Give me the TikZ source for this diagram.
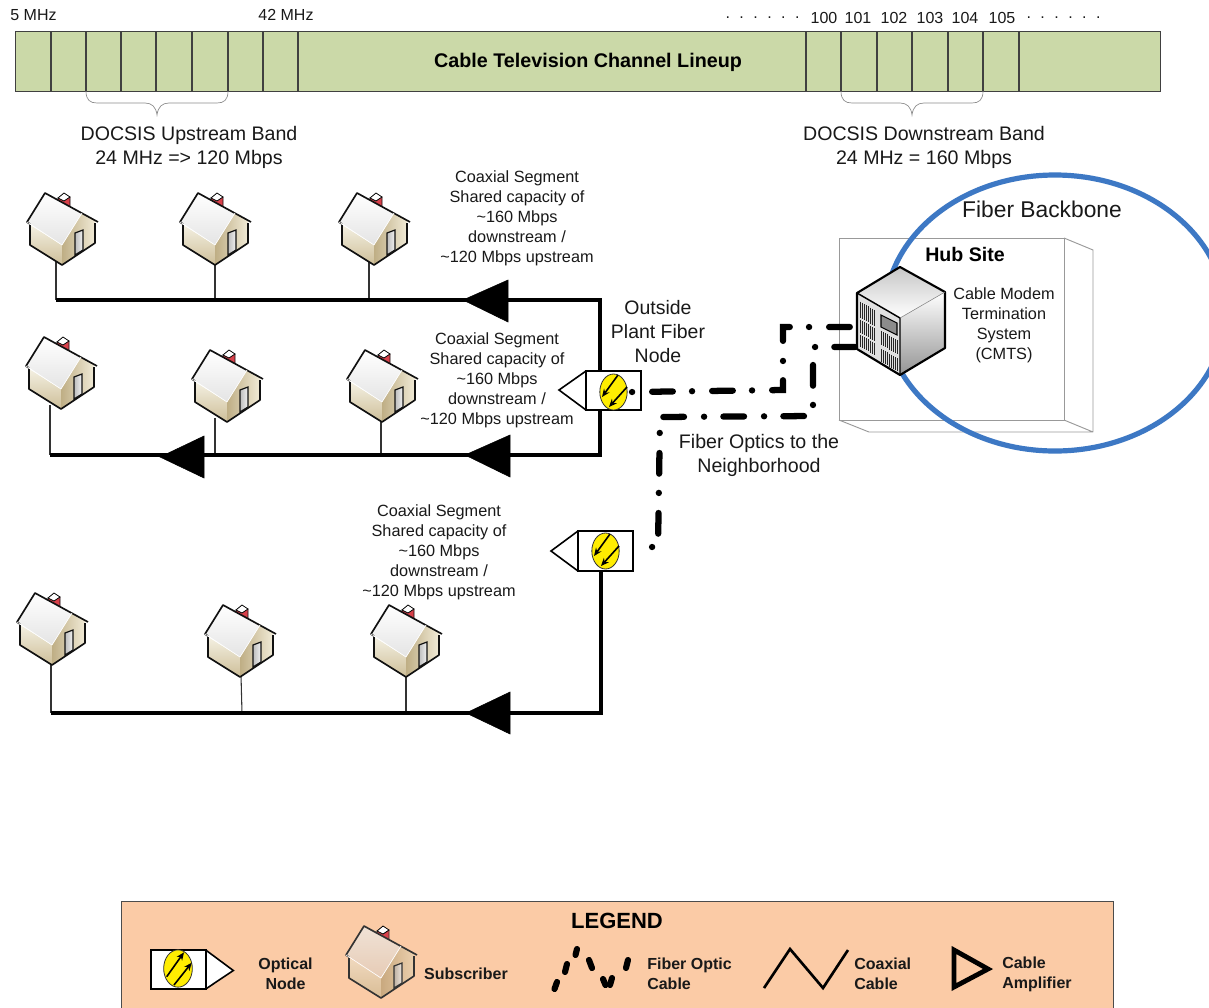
\documentclass[tikz,border=0pt]{standalone}
\usepackage{fontspec}
\setmainfont{Liberation Sans}
\usetikzlibrary{arrows.meta,shapes.geometric}
\definecolor{chan}{HTML}{CBD9A8}
\definecolor{legendbg}{HTML}{FBCBA6}
\definecolor{blueloop}{HTML}{3D78C4}
\definecolor{chimred}{HTML}{D8404A}
\definecolor{roofa}{HTML}{FFFFFF}
\definecolor{roofb}{HTML}{E4E4E4}
\definecolor{walla}{HTML}{F4F0E2}
\definecolor{wallb}{HTML}{CDBE98}
\definecolor{sidea}{HTML}{BFAE85}
\definecolor{sideb}{HTML}{F0EAD6}
\definecolor{doora}{HTML}{BDBDBD}
\definecolor{doorb}{HTML}{F2F2F2}
\definecolor{edgec}{HTML}{111111}
\tikzset{
  x=0.75pt,y=-0.75pt,
  txt/.style={inner sep=0pt,align=center,text=black!90},
  coaxtxt/.style={txt,font=\fontsize{12.2pt}{15pt}\selectfont},
  bandtxt/.style={txt,font=\fontsize{14.7pt}{18pt}\selectfont},
  freq/.style={txt,font=\fontsize{12pt}{14pt}\selectfont},
  legtxt/.style={inner sep=0pt,align=left,font=\bfseries\fontsize{12pt}{15pt}\selectfont,text=black!90},
  bus/.style={line width=2.4pt,black,line join=miter},
  drop/.style={line width=0.8pt,black!80},
  amp/.style={fill=black,draw=black},
  fiber/.style={line width=4.7pt,black,line cap=round,line join=miter,dash pattern=on 0.1pt off 15pt on 15.5pt off 14.4pt},
  chline/.style={line width=0.8pt,black!75},
  bracel/.style={line width=0.5pt,black!45},
  optbox/.style={draw=black,line width=1.3pt,fill=white,minimum width=41.25pt,minimum height=29.5pt,inner sep=0pt},
  opttip/.style={draw=black,line width=1.2pt,fill=white,line join=miter},
  yell/.style={draw=black!80,line width=0.6pt,fill=yellow!95!orange},
  oarrow/.style={line width=1.2pt,black,-{Stealth[length=6pt,width=5pt]}},
  vent/.style={line width=0.62pt,black!85},
  house/.pic={
    % chimney
    \fill[chimred,draw=edgec,line width=0.6pt] (-4,-67) -- (-4,-58) -- (8,-50) -- (8,-68) -- cycle;
    \draw[fill=white,line width=0.6pt] (-4,-67) -- (2,-72) -- (8,-68) -- (2,-64) -- cycle;
    % walls
    \shade[top color=walla,bottom color=wallb] (-32,-40) -- (-32,-20) -- (0,0) -- (0,-20) -- cycle;
    \shade[left color=sidea,right color=sideb] (0,-20) -- (20,-52) -- (33,-44) -- (33,-22) -- (0,0) -- cycle;
    \draw[line width=1.25pt,edgec,line join=round] (-32,-40) -- (-32,-20) -- (0,0) -- (33,-22) -- (33,-42);
    % roof
    \shade[top color=roofa,bottom color=roofb,draw=none] (-17,-72) -- (-35,-43) -- (0,-20) -- (20,-52) -- cycle;
    \draw[line width=1.25pt,edgec,line join=round] (36,-43) -- (-17,-72) -- (-35,-43) -- (-32,-41);
    \draw[line width=0.5pt,white] (-35,-43) -- (0,-20) -- (20,-52);
    % door
    \shade[left color=doora,right color=doorb,draw=edgec,line width=0.9pt] (13,-10) -- (13,-32) -- (21,-35) -- (21,-15) -- cycle;
  }
}
\begin{document}
\begin{tikzpicture}
\useasboundingbox (0,0) rectangle (1209,1007);
\fill[white] (0,0) rectangle (1209,1007);

% ---- channel bar
\node[draw=black!75,line width=0.9pt,fill=chan,minimum width=858.75pt,minimum height=45pt,inner sep=0pt,anchor=north west] (bar) at (15,31) {};
\foreach \xx in {51,86,121,156,192,228,263,298,806,841,877,912,948,983,1019}
  \draw[chline] (\xx,31) -- (\xx,91);
\node[txt,font=\bfseries\fontsize{14.8pt}{18pt}\selectfont,text=black] (title) at (588,62) {Cable Television Channel Lineup};
\node[freq] (f5) at (33.5,15) {5 MHz};
\node[freq] (f42) at (286,15) {42 MHz};
\node[freq] (dotsa) at (762.5,18) {.\hspace{7.1pt}.\hspace{7.1pt}.\hspace{7.1pt}.\hspace{7.1pt}.\hspace{7.1pt}.};
\node[freq] (c100) at (824,18) {100};
\node[freq] (c101) at (858,18) {101};
\node[freq] (c102) at (894,18) {102};
\node[freq] (c103) at (930,18) {103};
\node[freq] (c104) at (965,18) {104};
\node[freq] (c105) at (1002,18) {105};
\node[freq] (dotsb) at (1063.5,18) {.\hspace{7.1pt}.\hspace{7.1pt}.\hspace{7.1pt}.\hspace{7.1pt}.\hspace{7.1pt}.};

% braces
\draw[bracel] (86,91) .. controls (86,100) and (90,103) .. (97,103) -- (145,103) .. controls (152,103) and (156,107) .. (157,115) .. controls (158,107) and (162,103) .. (169,103) -- (217,103) .. controls (224,103) and (228,100) .. (228,91);
\draw[bracel] (841,91) .. controls (841,100) and (845,103) .. (852,103) -- (900,103) .. controls (907,103) and (911,107) .. (912,115) .. controls (913,107) and (917,103) .. (924,103) -- (972,103) .. controls (979,103) and (983,100) .. (983,91);
\node[bandtxt] (upband) at (189,147) {DOCSIS Upstream Band\\24 MHz => 120 Mbps};
\node[bandtxt] (downband) at (924,147) {DOCSIS Downstream Band\\24 MHz = 160 Mbps};

% ---- coax buses
\coordinate (r1l) at (56,300);
\coordinate (r1r) at (600,300);
\coordinate (r2l) at (50,455);
\coordinate (r2r) at (600,455);
\coordinate (r3l) at (51,713);
\coordinate (r3r) at (601,713);

% houses
\foreach \nm/\hx/\hy in {a/62/265,b/215/265,c/374/265,d/61/409,e/227/422,f/382/422,g/52/665,h/240/677,i/406/677}
  \coordinate (h\nm) at (\hx,\hy);
\draw[drop] (56,262) -- (r1l);
\draw[drop] (215,262) -- (215,300);
\draw[drop] (369,262) -- (369,300);
\draw[drop] (50,405) -- (r2l);
\draw[drop] (215,418) -- (215,455);
\draw[drop] (381,420) -- (381,455);
\draw[drop] (51,660) -- (r3l);
\draw[drop] (241,675) -- (242,713);
\draw[drop] (406,675) -- (406,713);
\foreach \nm in {a,b,c,d,e,f,g,h,i}
  \pic (pic\nm) at (h\nm) {house};

\draw[bus] (r1l) -- (r1r) -- (r2r) -- (r2l);
\draw[bus] (r3l) -- (r3r) -- (601,570);

% amplifiers
\draw[amp] (463,300) -- (508,280) -- (508,322) -- cycle;
\draw[amp] (465,455) -- (510,435) -- (510,477) -- cycle;
\draw[amp] (160,457) -- (204,436) -- (204,478) -- cycle;
\draw[amp] (466,713) -- (510,692) -- (510,734) -- cycle;

% coax text
\node[coaxtxt] (seg1) at (517,218) {Coaxial Segment\\Shared capacity of\\\textasciitilde160 Mbps\\downstream /\\\textasciitilde120 Mbps upstream};
\node[coaxtxt] (seg2) at (497,380) {Coaxial Segment\\Shared capacity of\\\textasciitilde160 Mbps\\downstream /\\\textasciitilde120 Mbps upstream};
\node[coaxtxt] (seg3) at (439,552) {Coaxial Segment\\Shared capacity of\\\textasciitilde160 Mbps\\downstream /\\\textasciitilde120 Mbps upstream};

% ---- hub site
\draw[line width=0.7pt,black!40,line join=round] (839,238) rectangle (1064,420);
\draw[line width=0.7pt,black!40,line join=round] (1064,238) -- (1093,250) -- (1093,432) -- (869,432) -- (839,420) (1064,420) -- (1093,432);
\node[draw=blueloop,line width=3.9pt,ellipse,minimum width=255pt,minimum height=207pt,inner sep=0pt] (backbone) at (1055,313) {};
\node[txt,font=\fontsize{17.1pt}{20pt}\selectfont] (fbb) at (1042,209) {Fiber Backbone};
\node[txt,font=\bfseries\fontsize{14.7pt}{16pt}\selectfont,text=black] (hub) at (965,254) {Hub Site};
\node[coaxtxt] (cmts) at (1004,325) {Cable Modem\\Termination\\System\\(CMTS)};

% server
\shade[top color=black!22,bottom color=white,draw=none] (900,267) -- (857,293) -- (900,318) -- (945,292) -- cycle;
\shade[top color=white,bottom color=black!42] (900,318) -- (945,292) -- (945,348) -- (900,375) -- cycle;
\fill[black!12] (857,293) -- (900,318) -- (900,375) -- (857,349) -- cycle;
\foreach \vv/\hh in {7/16,25/13,40/12}
  \foreach \uu in {3,5,...,17}
    \draw[vent] ({857+\uu},{293+0.58*\uu+\vv}) -- ({857+\uu},{293+0.58*\uu+\vv+\hh});
\foreach \vv/\hh in {24/14,42/13}
  \foreach \uu in {24,26,...,40}
    \draw[vent] ({857+\uu},{293+0.58*\uu+\vv}) -- ({857+\uu},{293+0.58*\uu+\vv+\hh});
\draw[black,line width=0.8pt,fill=black!45] (881,315) -- (897,323) -- (897,335) -- (881,327) -- cycle;
\draw[black,line width=1.6pt,line join=round] (900,267) -- (945,292) -- (945,348) -- (900,375) -- (857,349) -- (857,293) -- cycle;
\draw[black,line width=1.1pt] (857,293) -- (900,318) -- (900,375);
\draw[black!50,line width=0.4pt] (900,318) -- (945,292);
\coordinate (srva) at (855,327);
\coordinate (srvb) at (855,347);

% ---- optical nodes
\draw[opttip] (586,371) -- (559,390) -- (586,410);
\node[optbox] (on1) at (613.5,390.5) {};
\node[yell,ellipse,minimum width=20.5pt,minimum height=27pt,inner sep=0pt] (oe1) at (613.5,392) {};
\draw[oarrow] (618,375) -- (602,397);
\draw[oarrow] (627,387) -- (609,407);
\draw[opttip] (578,531) -- (551,551) -- (578,571);
\node[optbox] (on2) at (605.5,551) {};
\node[yell,ellipse,minimum width=20.5pt,minimum height=27pt,inner sep=0pt] (oe2) at (605.5,551) {};
\draw[oarrow] (610,534) -- (594,556);
\draw[oarrow] (619,546) -- (601,566);

% ---- fibre
\coordinate (fa) at (632,392);
\draw[fiber] (fa) -- (783,390) -- (783,327) -- (srva);
\coordinate (fb) at (648,547);
\draw[fiber,dash phase=15.1pt] (srvb) -- (813,347) -- (813,416) -- (660,417) -- (658,547) -- (fb);

\node[txt,font=\fontsize{14.6pt}{18pt}\selectfont] (opf) at (658,332) {Outside\\Plant Fiber\\Node};
\node[txt,font=\fontsize{14.7pt}{18pt}\selectfont] (fon) at (759,455) {Fiber Optics to the\\Neighborhood};

% ---- legend
\node[draw=black!70,line width=0.9pt,fill=legendbg,minimum width=744pt,minimum height=90pt,inner sep=0pt,anchor=north west] (legend) at (121,901) {};
\node[txt,font=\bfseries\fontsize{16.5pt}{20pt}\selectfont,text=black] (legt) at (617,921) {LEGEND};

\draw[opttip] (205.7,950) -- (233.3,970.5) -- (205.7,989);
\node[draw=black,line width=1.4pt,fill=white,minimum width=41.25pt,minimum height=29.5pt,inner sep=0pt] (lon) at (178.2,969.5) {};
\node[yell,ellipse,minimum width=21.5pt,minimum height=28pt,inner sep=0pt] (loe) at (178,968.5) {};
\draw[oarrow] (166.7,976.7) -- (184,952.3);
\draw[oarrow] (174,985) -- (191.7,962.7);
\node[legtxt,align=center] (lont) at (285.5,974) {Optical\\Node};

\begin{scope}
\definecolor{roofa}{HTML}{F0E2D6}
\definecolor{roofb}{HTML}{E6CBB5}
\definecolor{walla}{HTML}{F0D9BE}
\definecolor{wallb}{HTML}{D9BC95}
\definecolor{sidea}{HTML}{C9A97F}
\definecolor{sideb}{HTML}{EBCFAD}
\definecolor{doora}{HTML}{BFB1A2}
\definecolor{doorb}{HTML}{EDE5DD}
\definecolor{edgec}{HTML}{333333}
\pic (lhouse) at (381,998) {house};
\end{scope}
\node[legtxt] (lsub) at (466,974) {Subscriber};

\foreach \ax/\ay/\bx/\by in {554.5/989/557/982, 565/972/567/964, 575.5/955/577/949, 589/960/592/968, 603/979/605.5/985, 610/985/612/978, 626/968/628/960}
  \draw[line width=4.6pt,line cap=round,black] (\ax,\ay) -- (\bx,\by);
\node[legtxt,anchor=west] (lfib) at (647,974) {Fiber Optic\\Cable};

\draw[line width=2pt,black,line join=miter] (764,988) -- (790,949) -- (823,988) -- (848,950);
\node[legtxt,anchor=west] (lcoax) at (854,974) {Coaxial\\Cable};

\draw[line width=3.6pt,black,line join=miter] (954,950) -- (988,969) -- (954,987) -- cycle;
\node[legtxt,anchor=west] (lamp) at (1002,974) {Cable\\Amplifier};
\end{tikzpicture}
\end{document}
